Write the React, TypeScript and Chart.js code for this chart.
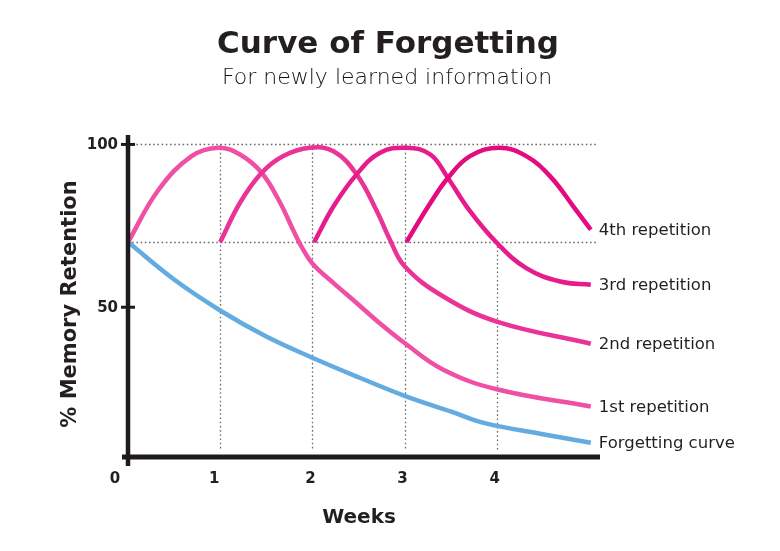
import React, { useEffect, useRef } from "react";
import { Chart, registerables } from "chart.js";

Chart.register(...registerables);

// ---- data ----
const chartTitle = "Curve of Forgetting";
const chartSubtitle = "For newly learned information";
const xAxisTitle = "Weeks";
const yAxisTitle = "% Memory Retention";

const weekTicks = [0, 1, 2, 3, 4];
const retentionTicks = [50, 100];
const referenceLevels = [100, 70]; // dotted horizontal guides

const forgettingX = [0, 0.5, 1, 1.5, 2, 2.5, 3, 3.5, 3.87, 4.5, 5.02];
const forgettingY = [70, 58.5, 49, 41, 34.5, 28.5, 22.8, 18, 14.4, 11, 8.4];

const rep1X = [0, 0.33, 0.69, 0.98, 1.215, 1.45, 1.65, 1.79, 1.88, 2.01, 2.23, 2.48, 2.73, 3, 3.42, 4, 5.02];
const rep1Y = [70, 86, 96.4, 99, 96.9, 91.3, 82.1, 73.8, 68.7, 63.1, 57.4, 51.3, 45.1, 39, 30.8, 24.8, 19.5];

const rep2X = [1, 1.215, 1.45, 1.68, 1.97, 2.23, 2.48, 2.7, 2.84, 3, 3.42, 4, 5.02];
const rep2Y = [70, 82.1, 91.3, 96.4, 99, 97.9, 90.8, 79.5, 70.8, 62.6, 53.3, 45.6, 38.8];

const rep3X = [2.02, 2.23, 2.48, 2.73, 3.02, 3.28, 3.47, 3.71, 4, 4.32, 4.69, 5.02];
const rep3Y = [70, 81, 90.8, 97.4, 99, 96.9, 89.7, 79.5, 69.8, 62, 57.9, 56.9];

const rep4X = [3.02, 3.28, 3.47, 3.71, 4.03, 4.32, 4.58, 4.83, 5.02];
const rep4Y = [70, 82, 89.7, 96.4, 99, 96.4, 90.2, 81, 73.8];

const seriesNames = ["Forgetting curve", "1st repetition", "2nd repetition", "3rd repetition", "4th repetition"];
const seriesColors = ["#64abe0", "#ef50a6", "#ea3396", "#e71c8c", "#e40a80"];

const X_MIN = 0;
const X_MAX = 5.12;
const Y_MIN = 4;
const Y_MAX = 102.9;

const FONT = "'DejaVu Sans', sans-serif";
const TEXT = "#231f20";

function pts(xs: number[], ys: number[]) {
  return xs.map((x, i) => ({ x, y: ys[i] }));
}

const decorPlugin = {
  id: "decor",
  beforeDatasetsDraw(chart: any) {
    const { ctx } = chart;
    const xs = chart.scales.x;
    const ys = chart.scales.y;
    const left = xs.getPixelForValue(X_MIN);
    const right = xs.getPixelForValue(X_MAX) - 2;
    const bottom = ys.getPixelForValue(Y_MIN);
    ctx.save();
    ctx.strokeStyle = "#6d6d6d";
    ctx.lineWidth = 1.3;
    ctx.setLineDash([1.6, 2.6]);
    referenceLevels.forEach((v) => {
      const y = Math.round(ys.getPixelForValue(v)) + 0.5;
      ctx.beginPath();
      ctx.moveTo(left, y);
      ctx.lineTo(right, y);
      ctx.stroke();
    });
    weekTicks.slice(1).forEach((w) => {
      const x = Math.round(xs.getPixelForValue(w)) + 0.5;
      const topVal = w === 4 ? 70 : 100;
      ctx.beginPath();
      ctx.moveTo(x, ys.getPixelForValue(topVal));
      ctx.lineTo(x, bottom - 7);
      ctx.stroke();
    });
    ctx.restore();
  },
  afterDatasetsDraw(chart: any) {
    const { ctx } = chart;
    const xs = chart.scales.x;
    const ys = chart.scales.y;
    const x0 = xs.getPixelForValue(X_MIN);
    const xEnd = xs.getPixelForValue(X_MAX);
    const yBottom = ys.getPixelForValue(Y_MIN);
    const yTop = ys.getPixelForValue(Y_MAX);
    ctx.save();
    // axes
    ctx.strokeStyle = "#1f1b1c";
    ctx.lineCap = "butt";
    ctx.lineWidth = 4.5;
    ctx.beginPath();
    ctx.moveTo(x0, yTop);
    ctx.lineTo(x0, yBottom + 9);
    ctx.stroke();
    ctx.lineWidth = 5;
    ctx.beginPath();
    ctx.moveTo(x0 - 6, yBottom);
    ctx.lineTo(xEnd, yBottom);
    ctx.stroke();
    // y tick marks
    ctx.lineWidth = 3;
    retentionTicks.forEach((v) => {
      const y = ys.getPixelForValue(v);
      ctx.beginPath();
      ctx.moveTo(x0 - 7, y);
      ctx.lineTo(x0 + 7, y);
      ctx.stroke();
    });
    // tick labels
    ctx.fillStyle = TEXT;
    ctx.font = `bold 15px ${FONT}`;
    ctx.textAlign = "right";
    ctx.textBaseline = "middle";
    retentionTicks.forEach((v) => {
      ctx.fillText(String(v), x0 - 10, ys.getPixelForValue(v) + 1);
    });
    ctx.textAlign = "center";
    ctx.textBaseline = "alphabetic";
    weekTicks.forEach((w) => {
      const x = xs.getPixelForValue(w) - (w === 0 ? 13 : w === 1 ? 6 : 2);
      ctx.fillText(String(w), x, yBottom + 26);
    });
    // axis titles
    ctx.font = `bold 20px ${FONT}`;
    ctx.fillText(xAxisTitle, 359, 523);
    ctx.save();
    ctx.translate(76, 304);
    ctx.rotate(-Math.PI / 2);
    ctx.font = `bold 21px ${FONT}`;
    ctx.textAlign = "center";
    ctx.fillText(yAxisTitle, 0, 0);
    ctx.restore();
    // series end labels
    ctx.font = `16.5px ${FONT}`;
    ctx.textAlign = "left";
    ctx.textBaseline = "middle";
    const allX = [forgettingX, rep1X, rep2X, rep3X, rep4X];
    const allY = [forgettingY, rep1Y, rep2Y, rep3Y, rep4Y];
    seriesNames.forEach((name, i) => {
      const lx = allX[i][allX[i].length - 1];
      const ly = allY[i][allY[i].length - 1];
      ctx.fillText(name, xs.getPixelForValue(lx) + 8, ys.getPixelForValue(ly) + 1);
    });
    // titles
    ctx.textAlign = "center";
    ctx.textBaseline = "alphabetic";
    ctx.font = `bold 31px ${FONT}`;
    ctx.fillText(chartTitle, 388, 53);
    ctx.fillStyle = "#141213";
    ctx.font = `200 22px ${FONT}`;
    ctx.fillText(chartSubtitle, 387, 84);
    ctx.restore();
  },
};

export default function App() {
  const ref = useRef<HTMLCanvasElement | null>(null);
  useEffect(() => {
    document.body.style.margin = "0";
    const canvas = ref.current;
    if (!canvas) return;
    const allX = [forgettingX, rep1X, rep2X, rep3X, rep4X];
    const allY = [forgettingY, rep1Y, rep2Y, rep3Y, rep4Y];
    const datasets = seriesNames.map((name, i) => ({
      label: name,
      data: pts(allX[i], allY[i]),
      borderColor: seriesColors[i],
      backgroundColor: seriesColors[i],
      borderWidth: 4.5,
      pointRadius: 0,
      fill: false,
      tension: 0.4,
      borderCapStyle: "butt" as const,
      order: 4 - i,
      clip: false as any,
    }));
    const chart = new Chart(canvas, {
      type: "line",
      data: { datasets },
      options: {
        animation: false,
        responsive: false,
        maintainAspectRatio: false,
        layout: { padding: { left: 128, right: 180, top: 135, bottom: 94 } },
        plugins: { legend: { display: false }, tooltip: { enabled: false }, title: { display: false } },
        scales: {
          x: { type: "linear", min: X_MIN, max: X_MAX, display: false },
          y: { type: "linear", min: Y_MIN, max: Y_MAX, display: false },
        },
      },
      plugins: [decorPlugin],
    });
    return () => chart.destroy();
  }, []);
  return (
    <div style={{ position: "absolute", left: 0, top: 0, width: 780, height: 551, background: "#fff" }}>
      <canvas ref={ref} width={780} height={551} style={{ display: "block", width: 780, height: 551 }} />
    </div>
  );
}
